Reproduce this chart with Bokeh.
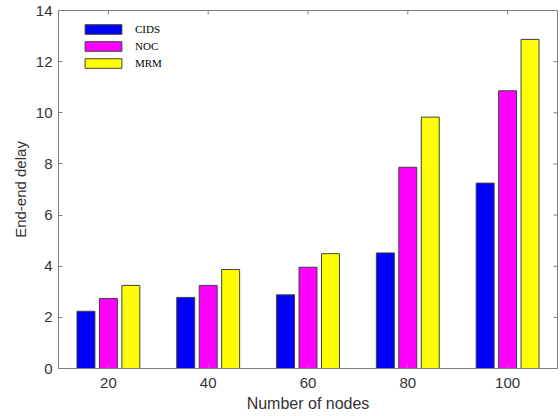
import math
from bokeh.plotting import figure
from bokeh.models import ColumnDataSource, FixedTicker, Legend, LegendItem, Range1d
from bokeh.embed import file_html
from bokeh.resources import INLINE

nodes = ["20", "40", "60", "80", "100"]
cids = [2.24, 2.78, 2.88, 4.52, 7.25]
noc = [2.74, 3.25, 3.96, 7.87, 10.86]
mrm = [3.25, 3.87, 4.49, 9.83, 12.87]
yticks = [0, 2, 4, 6, 8, 10, 12, 14]

pos = [1, 2, 3, 4, 5]
step = 0.225
width = 0.18
xr = Range1d(0.5, 5.5)
yr = Range1d(0, 14)

p = figure(frame_width=499, frame_height=358, output_backend="svg", toolbar_location=None,
           x_range=xr, y_range=yr)
p.min_border_left = 58
p.min_border_right = 2
p.min_border_top = 10
p.min_border_bottom = 0
p.grid.visible = False
p.outline_line_color = "#7f7f7f"
p.outline_line_width = 1

src = ColumnDataSource(dict(
    x1=[x - step for x in pos], x2=pos, x3=[x + step for x in pos],
    cids=cids, noc=noc, mrm=mrm))
r1 = p.vbar(x="x1", top="cids", width=width, source=src, fill_color="#0000FF", line_color="#404040")
r2 = p.vbar(x="x2", top="noc", width=width, source=src, fill_color="#FF00FF", line_color="#404040")
r3 = p.vbar(x="x3", top="mrm", width=width, source=src, fill_color="#FFFF00", line_color="#404040")

# inward ticks on the right and top edges of the box
p.ray(x=[xr.end] * len(yticks), y=yticks, length=4, length_units="screen",
      angle=math.pi, line_color="#7f7f7f", line_width=1)
p.ray(x=pos, y=[yr.end] * len(pos), length=4, length_units="screen",
      angle=-math.pi / 2, line_color="#7f7f7f", line_width=1)

font = "Liberation Sans"
for ax in (p.xaxis[0], p.yaxis[0]):
    ax.axis_line_color = "#7f7f7f"
    ax.major_tick_line_color = "#7f7f7f"
    ax.major_tick_in = 4
    ax.major_tick_out = 0
    ax.minor_tick_line_color = None
    ax.major_label_text_font = font
    ax.major_label_text_font_size = "15px"
    ax.major_label_text_color = "#333333"
    ax.axis_label_text_font = font
    ax.axis_label_text_font_style = "normal"
    ax.axis_label_text_color = "#333333"

p.xaxis[0].ticker = FixedTicker(ticks=pos)
p.xaxis[0].major_label_overrides = {i + 1: n for i, n in enumerate(nodes)}
p.xaxis[0].axis_label = "Number of nodes"
p.xaxis[0].axis_label_text_font_size = "16px"
p.xaxis[0].major_label_standoff = 9
p.xaxis[0].axis_label_standoff = 4
p.yaxis[0].ticker = FixedTicker(ticks=yticks)
p.yaxis[0].axis_label = "End-end delay"
p.yaxis[0].axis_label_text_font_size = "15px"
p.yaxis[0].major_label_standoff = 6
p.yaxis[0].axis_label_standoff = 4

legend = Legend(items=[LegendItem(label="CIDS", renderers=[r1]),
                       LegendItem(label="NOC", renderers=[r2]),
                       LegendItem(label="MRM", renderers=[r3])],
                location=(22, 299))
legend.glyph_width = 46
legend.glyph_height = 12
legend.label_height = 12
legend.spacing = 5
legend.padding = 0
legend.margin = 0
legend.label_standoff = 9
legend.label_text_font = "Liberation Serif"
legend.label_text_font_size = "11px"
legend.label_text_color = "#000000"
legend.background_fill_alpha = 0
legend.border_line_color = None
p.add_layout(legend, "center")

open("out.html", "w").write(file_html(p, INLINE))
